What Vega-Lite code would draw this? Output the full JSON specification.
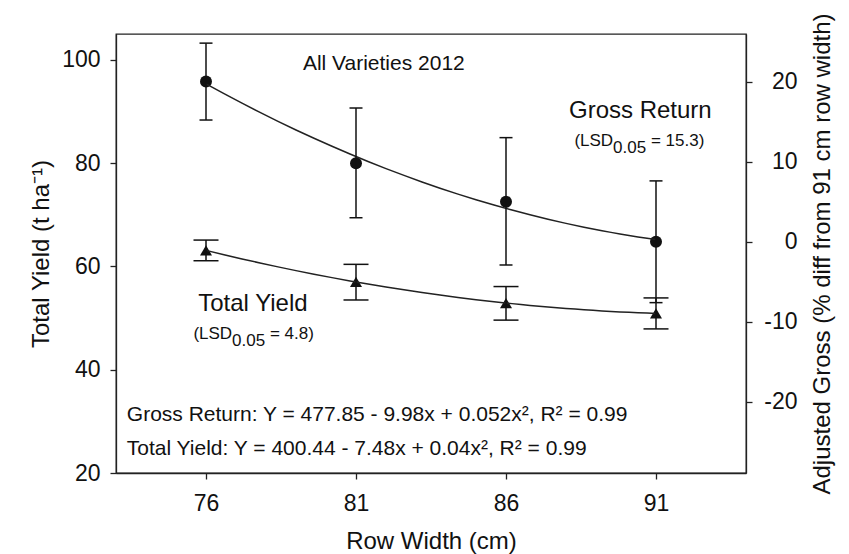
{
  "$schema": "https://vega.github.io/schema/vega-lite/v6.json",
  "width": 630,
  "height": 439,
  "autosize": {"type": "none"},
  "padding": {"left": 116, "top": 34, "right": 103, "bottom": 81},
  "background": "white",
  "config": {
    "font": "Liberation Sans",
    "view": {"stroke": "#222", "strokeWidth": 1.3},
    "axis": {
      "grid": false,
      "domainColor": "#222",
      "domainWidth": 1.3,
      "tickColor": "#222",
      "tickWidth": 1.3,
      "tickSize": 6,
      "labelColor": "#111",
      "titleColor": "#111",
      "titleFontWeight": "normal",
      "labelFontSize": 23,
      "titleFontSize": 24
    }
  },
  "datasets": {
    "pts": [
      {"w": 76, "yield": 63.1, "ylo": 61.1, "yhi": 65.1, "gross": 20.0, "glo": 15.2, "ghi": 24.8},
      {"w": 81, "yield": 57.0, "ylo": 53.5, "yhi": 60.4, "gross": 9.8, "glo": 3.0, "ghi": 16.7},
      {"w": 86, "yield": 52.9, "ylo": 49.6, "yhi": 56.1, "gross": 5.0, "glo": -2.9, "ghi": 13.0},
      {"w": 91, "yield": 50.9, "ylo": 47.9, "yhi": 53.9, "gross": 0.0, "glo": -7.6, "ghi": 7.6}
    ],
    "one": [{}]
  },
  "layer": [
    {
      "layer": [
        {
          "data": {"name": "pts"},
          "mark": {"type": "point", "shape": "triangle-up", "filled": true, "size": 144, "color": "#111", "opacity": 1},
          "encoding": {
            "x": {"field": "w", "type": "quantitative", "scale": {"domain": [73, 94], "nice": false, "zero": false},
              "axis": {"values": [76, 81, 86, 91], "title": "Row Width (cm)", "labelPadding": 13, "titlePadding": 14}},
            "y": {"field": "yield", "type": "quantitative", "scale": {"domain": [20, 105], "nice": false, "zero": false},
              "axis": {"values": [20, 40, 60, 80, 100], "title": "Total Yield (t ha⁻¹)", "labelPadding": 10, "titlePadding": 8}}
          }
        },
        {
          "data": {"name": "pts"},
          "transform": [{"regression": "yield", "on": "w", "method": "poly", "order": 2, "extent": [76, 91]}],
          "mark": {"type": "line", "color": "#222", "strokeWidth": 1.5},
          "encoding": {
            "x": {"field": "w", "type": "quantitative"},
            "y": {"field": "yield", "type": "quantitative"}
          }
        },
        {
          "data": {"name": "pts"},
          "mark": {"type": "rule", "color": "#111", "strokeWidth": 1.5},
          "encoding": {
            "x": {"field": "w", "type": "quantitative"},
            "y": {"field": "ylo", "type": "quantitative"},
            "y2": {"field": "yhi"}
          }
        },
        {
          "data": {"name": "pts"},
          "transform": [{"fold": ["ylo", "yhi"], "as": ["end", "val"]}],
          "mark": {"type": "tick", "orient": "horizontal", "size": 25, "thickness": 1.5, "color": "#111", "opacity": 1},
          "encoding": {
            "x": {"field": "w", "type": "quantitative"},
            "y": {"field": "val", "type": "quantitative"}
          }
        },
        {
          "data": {"name": "one"},
          "mark": {"type": "text", "align": "left", "baseline": "alphabetic", "fontSize": 21, "color": "#111", "text": "All Varieties 2012"},
          "encoding": {"x": {"datum": 79.23, "type": "quantitative"}, "y": {"datum": 98.0, "type": "quantitative"}}
        },
        {
          "data": {"name": "one"},
          "mark": {"type": "text", "align": "left", "baseline": "alphabetic", "fontSize": 24, "color": "#111", "text": "Gross Return"},
          "encoding": {"x": {"datum": 88.1, "type": "quantitative"}, "y": {"datum": 88.7, "type": "quantitative"}}
        },
        {
          "data": {"name": "one"},
          "mark": {"type": "text", "align": "left", "baseline": "alphabetic", "fontSize": 17, "color": "#111", "text": "(LSD"},
          "encoding": {"x": {"datum": 88.28, "type": "quantitative"}, "y": {"datum": 83.33, "type": "quantitative"}}
        },
        {
          "data": {"name": "one"},
          "mark": {"type": "text", "align": "left", "baseline": "alphabetic", "fontSize": 17, "color": "#111", "dx": 38.7, "dy": 7, "text": "0.05"},
          "encoding": {"x": {"datum": 88.28, "type": "quantitative"}, "y": {"datum": 83.33, "type": "quantitative"}}
        },
        {
          "data": {"name": "one"},
          "mark": {"type": "text", "align": "left", "baseline": "alphabetic", "fontSize": 17, "color": "#111", "dx": 76.5, "text": "= 15.3)"},
          "encoding": {"x": {"datum": 88.28, "type": "quantitative"}, "y": {"datum": 83.33, "type": "quantitative"}}
        },
        {
          "data": {"name": "one"},
          "mark": {"type": "text", "align": "left", "baseline": "alphabetic", "fontSize": 24, "color": "#111", "text": "Total Yield"},
          "encoding": {"x": {"datum": 75.74, "type": "quantitative"}, "y": {"datum": 51.46, "type": "quantitative"}}
        },
        {
          "data": {"name": "one"},
          "mark": {"type": "text", "align": "left", "baseline": "alphabetic", "fontSize": 17, "color": "#111", "text": "(LSD"},
          "encoding": {"x": {"datum": 75.58, "type": "quantitative"}, "y": {"datum": 45.93, "type": "quantitative"}}
        },
        {
          "data": {"name": "one"},
          "mark": {"type": "text", "align": "left", "baseline": "alphabetic", "fontSize": 17, "color": "#111", "dx": 38.7, "dy": 7, "text": "0.05"},
          "encoding": {"x": {"datum": 75.58, "type": "quantitative"}, "y": {"datum": 45.93, "type": "quantitative"}}
        },
        {
          "data": {"name": "one"},
          "mark": {"type": "text", "align": "left", "baseline": "alphabetic", "fontSize": 17, "color": "#111", "dx": 76.5, "text": "= 4.8)"},
          "encoding": {"x": {"datum": 75.58, "type": "quantitative"}, "y": {"datum": 45.93, "type": "quantitative"}}
        },
        {
          "data": {"name": "one"},
          "mark": {"type": "text", "align": "left", "baseline": "alphabetic", "fontSize": 21, "color": "#111", "text": "Gross Return: Y = 477.85 - 9.98x + 0.052x², R² = 0.99"},
          "encoding": {"x": {"datum": 73.36, "type": "quantitative"}, "y": {"datum": 30.0, "type": "quantitative"}}
        },
        {
          "data": {"name": "one"},
          "mark": {"type": "text", "align": "left", "baseline": "alphabetic", "fontSize": 21, "color": "#111", "text": "Total Yield: Y = 400.44 - 7.48x + 0.04x², R² = 0.99"},
          "encoding": {"x": {"datum": 73.36, "type": "quantitative"}, "y": {"datum": 23.54, "type": "quantitative"}}
        }
      ]
    },
    {
      "layer": [
        {
          "data": {"name": "pts"},
          "mark": {"type": "point", "shape": "circle", "filled": true, "size": 144, "color": "#111", "opacity": 1},
          "encoding": {
            "x": {"field": "w", "type": "quantitative"},
            "y": {"field": "gross", "type": "quantitative", "scale": {"domain": [-28.87, 25.94], "nice": false, "zero": false},
              "axis": {"orient": "right", "values": [-20, -10, 0, 10, 20], "title": "Adjusted Gross (% diff from 91 cm row width)",
                "labelExpr": "toString(datum.value)",
                "labelAlign": "right", "labelPadding": 45, "titleAngle": 270, "titleBaseline": "top", "titlePadding": 13}}
          }
        },
        {
          "data": {"name": "pts"},
          "transform": [{"regression": "gross", "on": "w", "method": "poly", "order": 2, "extent": [76, 91]}],
          "mark": {"type": "line", "color": "#222", "strokeWidth": 1.5},
          "encoding": {
            "x": {"field": "w", "type": "quantitative"},
            "y": {"field": "gross", "type": "quantitative"}
          }
        },
        {
          "data": {"name": "pts"},
          "mark": {"type": "rule", "color": "#111", "strokeWidth": 1.5},
          "encoding": {
            "x": {"field": "w", "type": "quantitative"},
            "y": {"field": "glo", "type": "quantitative"},
            "y2": {"field": "ghi"}
          }
        },
        {
          "data": {"name": "pts"},
          "transform": [{"fold": ["glo", "ghi"], "as": ["end", "val"]}],
          "mark": {"type": "tick", "orient": "horizontal", "size": 13, "thickness": 1.5, "color": "#111", "opacity": 1},
          "encoding": {
            "x": {"field": "w", "type": "quantitative"},
            "y": {"field": "val", "type": "quantitative"}
          }
        }
      ]
    }
  ],
  "resolve": {"scale": {"y": "independent"}, "axis": {"y": "independent"}}
}
